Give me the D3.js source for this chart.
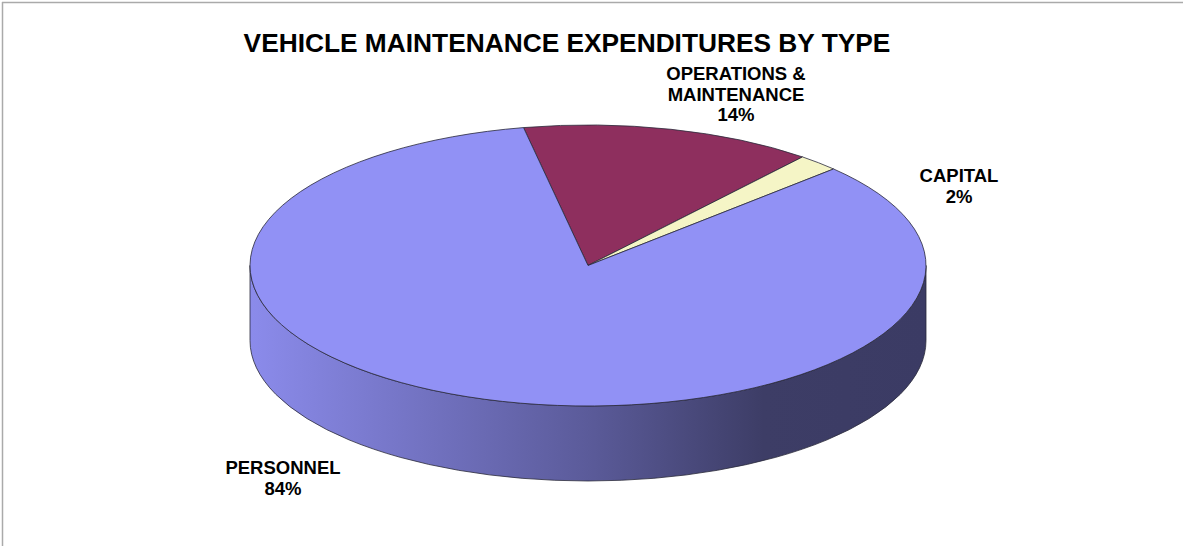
<!DOCTYPE html>
<html>
<head>
<meta charset="utf-8">
<script src="https://cdn.jsdelivr.net/npm/d3@7/dist/d3.min.js"></script>
<style>
  html, body { margin: 0; padding: 0; background: #fff; }
  svg { display: block; }
  text { font-family: "Liberation Sans", Arial, sans-serif; font-weight: bold; fill: #000; }
</style>
</head>
<body>
<svg id="chart" width="1183" height="546"></svg>
<script>
// Expenditure shares by type, in percent (clockwise from the top)
const categories = ["OPERATIONS & MAINTENANCE", "CAPITAL", "PERSONNEL"];
const shares = [14, 2, 84];
const labelLines = [["OPERATIONS &", "MAINTENANCE"], ["CAPITAL"], ["PERSONNEL"]];
const topColors = ["#8e2f5e", "#f5f5c6", "#9191f5"];
const title = "VEHICLE MAINTENANCE EXPENDITURES BY TYPE";

const W = 1183, H = 546;
const svg = d3.select("#chart");

// frame lines along the top and left edges
svg.append("line").attr("x1", 2).attr("y1", 2.5).attr("x2", W).attr("y2", 2.5)
  .attr("stroke", "#aaa").attr("stroke-width", 1.5);
svg.append("line").attr("x1", 2.5).attr("y1", 2).attr("x2", 2.5).attr("y2", H)
  .attr("stroke", "#aaa").attr("stroke-width", 1.5);

// tilted pie geometry
const cx = 588, cy = 265.5, rx = 338, ry = 140.5, depth = 75;
const startDeg = -11;
const pt = (a, dy = 0) => [cx + rx * Math.sin(a), cy - ry * Math.cos(a) + dy];

const data = categories.map((c, i) => ({ name: c, value: shares[i], i }));
const pie = d3.pie().sort(null).value(d => d.value)
  .startAngle(startDeg * Math.PI / 180)
  .endAngle(startDeg * Math.PI / 180 + 2 * Math.PI);
const arcs = pie(data);

// gradients for the side walls: light on the left, dark towards the right
const defs = svg.append("defs");
arcs.forEach((a, i) => {
  const base = d3.color(topColors[i]);
  const g = defs.append("linearGradient").attr("id", "side" + i)
    .attr("gradientUnits", "userSpaceOnUse")
    .attr("x1", cx - rx).attr("y1", 0).attr("x2", cx + rx).attr("y2", 0);
  const stops = [[0, 0.12], [0.5, 1.3], [0.76, 2.45], [1, 2.5]];
  stops.forEach(([o, k]) => g.append("stop").attr("offset", o)
    .attr("stop-color", base.darker(k).formatHex()));
});

// side walls: the visible front half runs from angle PI/2 to 3PI/2
function sidePath(a0, a1) {
  const p0 = pt(a0), p1 = pt(a1), q1 = pt(a1, depth), q0 = pt(a0, depth);
  const large = (a1 - a0) > Math.PI ? 1 : 0;
  return `M${p0}A${rx},${ry} 0 ${large} 1 ${p1}L${q1}A${rx},${ry} 0 ${large} 0 ${q0}Z`;
}
const sideG = svg.append("g");
arcs.forEach((a, i) => {
  // test this turn and the neighbouring ones so wrapped ranges are covered
  for (const shift of [0, 2 * Math.PI, -2 * Math.PI]) {
    const s = Math.max(a.startAngle + shift, Math.PI / 2);
    const e = Math.min(a.endAngle + shift, 3 * Math.PI / 2);
    if (e > s) {
      sideG.append("path").attr("d", sidePath(s, e))
        .attr("fill", `url(#side${i})`)
        .attr("stroke", "#2a2a3a").attr("stroke-width", 0.8)
        .attr("stroke-linejoin", "round");
    }
  }
});

// top faces
function topPath(a0, a1) {
  const p0 = pt(a0), p1 = pt(a1);
  const large = (a1 - a0) > Math.PI ? 1 : 0;
  return `M${cx},${cy}L${p0}A${rx},${ry} 0 ${large} 1 ${p1}Z`;
}
svg.append("g").selectAll("path").data(arcs).join("path")
  .attr("d", d => topPath(d.startAngle, d.endAngle))
  .attr("fill", (d, i) => topColors[i])
  .attr("stroke", "#2a2a3a").attr("stroke-width", 0.8)
  .attr("stroke-linejoin", "round");

// title
svg.append("text").attr("x", 567).attr("y", 52).attr("text-anchor", "middle")
  .attr("font-size", 26.3).text(title);

// slice labels
const labelPos = [[736, 80], [959, 182], [283, 474]];
const fmt = d3.format(".0f");
arcs.forEach((a, i) => {
  const lines = labelLines[i].concat([fmt(a.data.value) + "%"]);
  const t = svg.append("text").attr("text-anchor", "middle").attr("font-size", 18.5);
  lines.forEach((ln, k) => t.append("tspan")
    .attr("x", labelPos[i][0]).attr("y", labelPos[i][1] + k * 20.7).text(ln));
});
</script>
</body>
</html>
